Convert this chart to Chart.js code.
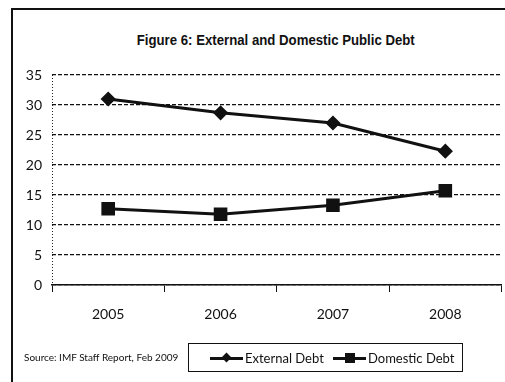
<!DOCTYPE html>
<html>
<head>
<meta charset="utf-8">
<script src="https://cdn.jsdelivr.net/npm/chart.js@4.4.1/dist/chart.umd.min.js"></script>
<style>
  html, body { margin: 0; padding: 0; background: #fff; }
  #wrap { position: relative; width: 505px; height: 382px; overflow: hidden; }
  #frame {
    position: absolute; left: 11px; top: 8px; width: 520px; height: 400px;
    border-left: 2px solid #111; border-top: 2px solid #111;
  }
  #title {
    position: absolute; left: 52px; width: 448px; top: 31px; text-align: center;
    font: bold 15px "Liberation Sans", Arial, sans-serif; color: #111;
    transform: scaleX(0.88); transform-origin: 222px 0;
  }
  #source {
    position: absolute; left: 24px; top: 351px;
    font: 10px Lato, "Open Sans", sans-serif; color: #111;
  }
  #legend {
    position: absolute; left: 188px; top: 343px; width: 275px; height: 29px;
    border: 1px solid #111; box-sizing: border-box;
    font: 13px Lato, "Open Sans", sans-serif; color: #111;
  }
  .item { position: absolute; top: 6px; white-space: nowrap; }
  .line { display: inline-block; width: 33px; height: 3px; background: #111; vertical-align: middle; position: relative; margin-right: 2px; top: -1px; }
  .dia { position: absolute; left: 13px; top: -3px; width: 7px; height: 7px; background: #111; transform: rotate(45deg); }
  .sq { position: absolute; left: 12px; top: -4px; width: 10px; height: 10px; background: #111; }
  canvas { position: absolute; left: 0; top: 0; }
</style>
</head>
<body>
<div id="wrap">
  <div id="frame"></div>
  <div id="title">Figure 6: External and Domestic Public Debt</div>
  <canvas id="debtChart" width="512" height="382"></canvas>
  <div id="source">Source: IMF Staff Report, Feb 2009</div>
  <div id="legend">
    <span class="item" style="left:21px"><span class="line"><span class="dia"></span></span>External Debt</span>
    <span class="item" style="left:144px"><span class="line"><span class="sq"></span></span>Domestic Debt</span>
  </div>
</div>
<script>
// data (% of GDP)
const years = ["2005", "2006", "2007", "2008"];
const externalDebt = [31.0, 28.7, 27.0, 22.3];
const domesticDebt = [12.7, 11.8, 13.3, 15.7];
const yTicks = [0, 5, 10, 15, 20, 25, 30, 35];

// dotted left axis line like the scanned original
const dottedAxis = {
  id: "dottedAxis",
  afterDraw(chart) {
    const { ctx, chartArea } = chart;
    ctx.save();
    ctx.strokeStyle = "#222";
    ctx.lineWidth = 1;
    ctx.setLineDash([1, 2]);
    ctx.beginPath();
    ctx.moveTo(chartArea.left + 0.5, chartArea.top);
    ctx.lineTo(chartArea.left + 0.5, chartArea.bottom);
    ctx.stroke();
    ctx.restore();
  },
};

const ctx = document.getElementById("debtChart").getContext("2d");

new Chart(ctx, {
  type: "line",
  data: {
    labels: years,
    datasets: [
      {
        label: "External Debt",
        data: externalDebt,
        borderColor: "#111",
        backgroundColor: "#111",
        borderWidth: 3,
        pointStyle: "rectRot",
        pointRadius: 5.5,
        tension: 0,
      },
      {
        label: "Domestic Debt",
        data: domesticDebt,
        borderColor: "#111",
        backgroundColor: "#111",
        borderWidth: 3,
        pointStyle: "rect",
        pointRadius: 7.5,
        tension: 0,
      },
    ],
  },
  options: {
    responsive: false,
    animation: false,
    layout: { padding: { top: 75, right: 5, left: 0, bottom: 0 } },
    scales: {
      x: {
        offset: true,
        afterFit: (scale) => { scale.height = 97; },
        grid: {
          offset: true,
          drawOnChartArea: false,
          drawTicks: true,
          tickLength: 7,
          color: "#111",
        },
        border: { display: true, color: "#111", width: 1.5 },
        ticks: {
          color: "#111",
          padding: 14,
          font: { family: "Lato", size: 14 },
        },
      },
      y: {
        min: 0,
        max: 35,
        afterFit: (scale) => { scale.width = 52; },
        afterBuildTicks: (scale) => { scale.ticks = yTicks.map((v) => ({ value: v })); },
        grid: { color: "#111", lineWidth: 1.3, drawTicks: false },
        border: { display: false, dash: [4, 2] },
        ticks: {
          color: "#111",
          padding: 10,
          font: { family: "Lato", size: 14 },
        },
      },
    },
    plugins: {
      legend: { display: false },
      title: { display: false },
      tooltip: { enabled: false },
    },
  },
  plugins: [dottedAxis],
});
</script>
</body>
</html>
